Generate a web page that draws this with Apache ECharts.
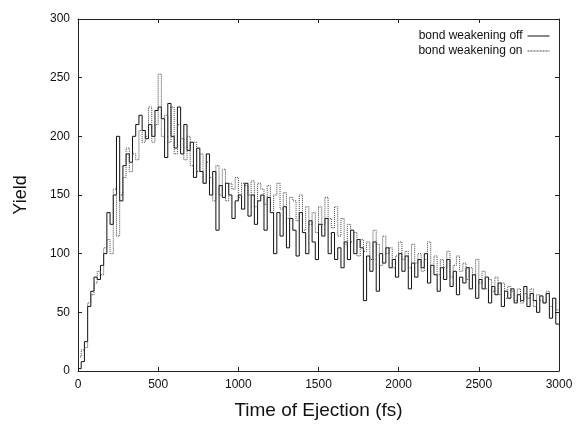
<!DOCTYPE html>
<html>
<head>
<meta charset="utf-8">
<script src="https://cdn.jsdelivr.net/npm/echarts@6/dist/echarts.min.js"></script>
<style>
  html,body{margin:0;padding:0;background:#fff;}
  #main{width:583px;height:434px;}
</style>
</head>
<body>
<div id="main"></div>
<script>
// bins of 20 fs, starting at 0
let binWidth = 20;
let xTicks = [0, 500, 1000, 1500, 2000, 2500, 3000];
let yTicks = [0, 50, 100, 150, 200, 250, 300];

let offYield = [
  2, 8, 25, 55, 68, 80, 78, 90, 100, 135, 125, 150, 200, 145, 175, 185, 178, 200, 210, 218,
  205, 198, 210, 200, 222, 225, 215, 182, 228, 200, 190, 225, 185, 210, 188, 195, 165, 190, 170, 160,
  185, 150, 170, 120, 158, 148, 160, 150, 130, 145, 150, 138, 160, 132, 150, 125, 145, 150, 120, 148,
  135, 100, 135, 115, 140, 105, 130, 120, 98, 135, 118, 100, 128, 110, 95, 125, 115, 130, 100, 118,
  95, 105, 88, 110, 95, 120, 100, 112, 105, 60, 98, 85, 110, 68, 100, 92, 105, 88, 95, 80,
  100, 85, 98, 70, 92, 80, 95, 88, 100, 75, 90, 82, 68, 88, 78, 95, 72, 85, 65, 80,
  75, 88, 70, 82, 62, 78, 70, 80, 58, 72, 65, 75, 55, 68, 62, 70, 58, 65, 60, 72,
  55, 66, 60, 50, 64, 58, 66, 45, 62, 40
];

let onYield = [
  12, 18, 20, 58, 65, 75, 85, 82, 105, 112, 100, 155, 115, 150, 165, 190, 170, 185, 180, 205,
  195, 200, 225, 195, 210, 253, 200, 218, 195, 225, 185, 210, 198, 180, 200, 175, 195, 170, 185, 160,
  178, 165, 145, 175, 150, 172, 145, 160, 155, 165, 148, 160, 158, 150, 162, 140, 160, 155, 142, 158,
  135, 150, 160, 138, 152, 130, 148, 145, 128, 150, 120, 140, 125, 135, 118, 140, 125, 148, 130, 122,
  140, 115, 130, 108, 125, 110, 118, 98, 112, 102, 110, 95, 120, 108, 90, 115, 100, 105, 88, 98,
  110, 95, 102, 88, 108, 92, 100, 85, 95, 110, 90, 98, 82, 95, 88, 102, 80, 90, 98, 85,
  92, 78, 88, 82, 95, 75, 85, 70, 78, 68, 80, 65, 75, 62, 72, 68, 60, 70, 58, 66,
  62, 70, 55, 65, 60, 58, 68, 55, 62, 52
];

function toSteps(values){
  let pts = values.map((v, i) => [i * binWidth, v]);
  pts.push([values.length * binWidth, values[values.length - 1]]);
  return pts;
}

let myChart = echarts.init(document.getElementById('main'));
let font = 'Liberation Sans, Arial, sans-serif';
let frameLine = { show: true, onZero: false, lineStyle: { color: '#222', width: 1 } };
let innerTick = { show: true, inside: true, length: 4, lineStyle: { color: '#222' } };

myChart.setOption({
  animation: false,
  backgroundColor: '#fff',
  textStyle: { fontFamily: font },
  grid: { left: 78, right: 24, top: 19, bottom: 63 },
  legend: {
    orient: 'vertical',
    right: 28,
    top: 25,
    align: 'right',
    itemWidth: 22,
    itemHeight: 8,
    itemGap: 3,
    itemStyle: { opacity: 0 },
    textStyle: { fontSize: 12, color: '#111', fontFamily: font },
    data: [
      { name: 'bond weakening off', lineStyle: { width: 1, type: 'solid', color: '#111' } },
      { name: 'bond weakening on', lineStyle: { width: 1, type: [2, 1], color: '#444' } }
    ]
  },
  xAxis: [{
    type: 'value',
    min: xTicks[0],
    max: xTicks[xTicks.length - 1],
    interval: 500,
    name: 'Time of Ejection (fs)',
    nameLocation: 'middle',
    nameGap: 30,
    nameTextStyle: { fontSize: 19, color: '#111', fontFamily: font },
    axisLine: frameLine,
    axisTick: innerTick,
    axisLabel: { fontSize: 12, color: '#111', margin: 8, formatter: v => String(v) },
    splitLine: { show: false }
  }, {
    type: 'value',
    position: 'top',
    min: 0, max: 3000, interval: 500,
    axisLine: frameLine,
    axisTick: innerTick,
    axisLabel: { show: false },
    splitLine: { show: false }
  }],
  yAxis: [{
    type: 'value',
    min: yTicks[0],
    max: yTicks[yTicks.length - 1],
    interval: 50,
    name: 'Yield',
    nameLocation: 'middle',
    nameGap: 48,
    nameTextStyle: { fontSize: 18, color: '#111', fontFamily: font },
    axisLine: frameLine,
    axisTick: innerTick,
    axisLabel: { fontSize: 12, color: '#111', margin: 8 },
    splitLine: { show: false }
  }, {
    type: 'value',
    position: 'right',
    min: 0, max: 300, interval: 50,
    axisLine: frameLine,
    axisTick: innerTick,
    axisLabel: { show: false },
    splitLine: { show: false }
  }],
  series: [{
    name: 'bond weakening off',
    type: 'line',
    step: 'end',
    symbol: 'none',
    color: '#111',
    lineStyle: { color: '#111', width: 1, type: 'solid' },
    data: toSteps(offYield)
  }, {
    name: 'bond weakening on',
    type: 'line',
    step: 'end',
    symbol: 'none',
    color: '#444',
    lineStyle: { color: '#444', width: 1, type: [1, 1] },
    data: toSteps(onYield)
  }]
});
</script>
</body>
</html>
